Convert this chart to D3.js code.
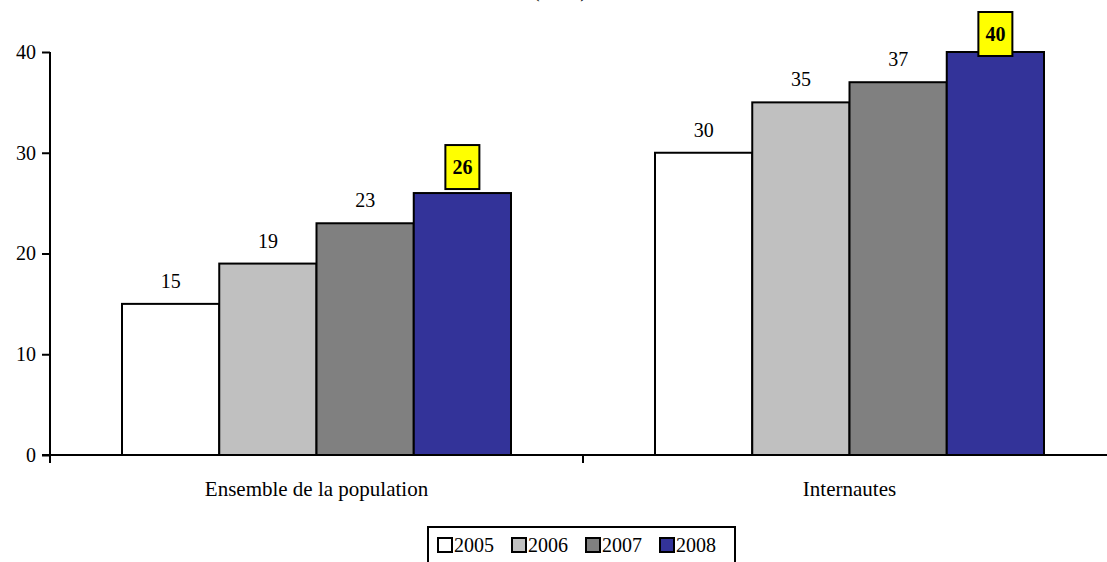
<!DOCTYPE html>
<html>
<head>
<meta charset="utf-8">
<script src="https://cdn.jsdelivr.net/npm/d3@7"></script>
<style>
body { margin: 0; background: #fff; }
svg text { font-family: "Liberation Serif", "Times New Roman", serif; }
</style>
</head>
<body>
<div id="chart"></div>
<script>
// chart data
var categories = ['Ensemble de la population', 'Internautes'];
var years = ['2005', '2006', '2007', '2008'];
var values2005 = [15, 30];
var values2006 = [19, 35];
var values2007 = [23, 37];
var values2008 = [26, 40];
var yTicks = [0, 10, 20, 30, 40];

var colors = ['#ffffff', '#c0c0c0', '#808080', '#333399'];
var series = [values2005, values2006, values2007, values2008];

var width = 1107, height = 562;

var svg = d3.select('#chart').append('svg')
	.attr('width', width)
	.attr('height', height);

var x0 = d3.scaleBand().domain(categories).range([50, 1116]);
var x1 = d3.scaleBand().domain(years).range([72, 461]);
var y = d3.scaleLinear().domain([0, 40]).range([455, 52]);

// title, cut off at the top like the original
svg.append('text')
	.attr('x', 560).attr('y', -3)
	.attr('text-anchor', 'middle')
	.style('font-size', '20px')
	.text('(en %)');

// bars
categories.forEach(function(cat, ci) {
	var g = svg.append('g').attr('transform', 'translate(' + x0(cat) + ',0)');
	years.forEach(function(yr, si) {
		var v = series[si][ci];
		g.append('rect')
			.attr('x', x1(yr))
			.attr('y', y(v))
			.attr('width', x1.bandwidth())
			.attr('height', y(0) - y(v))
			.attr('fill', colors[si])
			.attr('stroke', '#000')
			.attr('stroke-width', 2);

		var cx = x1(yr) + x1.bandwidth() / 2;
		if (si == years.length - 1) {
			var top = Math.max(12, y(v) - 48);
			g.append('rect')
				.attr('x', cx - 17).attr('y', top)
				.attr('width', 34).attr('height', 44)
				.attr('fill', '#ffff00')
				.attr('stroke', '#000')
				.attr('stroke-width', 2);
			g.append('text')
				.attr('x', cx).attr('y', top + 29)
				.attr('text-anchor', 'middle')
				.style('font-size', '20px')
				.style('font-weight', 'bold')
				.text(v);
		}
		else {
			g.append('text')
				.attr('x', cx).attr('y', y(v) - 16)
				.attr('text-anchor', 'middle')
				.style('font-size', '20px')
				.text(v);
		}
	});
});

// y axis
var yAxis = d3.axisLeft(y).tickValues(yTicks).tickSize(8).tickPadding(6);
var ya = svg.append('g').attr('transform', 'translate(50,0)').call(yAxis);
ya.select('.domain').remove();
ya.selectAll('.tick line').attr('stroke', '#000').attr('stroke-width', 2);
ya.selectAll('.tick text').style('font-size', '20px').style('font-family', '"Liberation Serif", serif').attr('fill', '#000');
svg.append('line')
	.attr('x1', 50).attr('x2', 50)
	.attr('y1', y(40)).attr('y2', 463)
	.attr('stroke', '#000').attr('stroke-width', 2);

// x axis
svg.append('line')
	.attr('x1', 42).attr('x2', 1116)
	.attr('y1', y(0)).attr('y2', y(0))
	.attr('stroke', '#000').attr('stroke-width', 2);
svg.append('line')
	.attr('x1', x0(categories[1])).attr('x2', x0(categories[1]))
	.attr('y1', y(0)).attr('y2', 463)
	.attr('stroke', '#000').attr('stroke-width', 2);
categories.forEach(function(cat) {
	svg.append('text')
		.attr('x', x0(cat) + x0.bandwidth() / 2)
		.attr('y', 496)
		.attr('text-anchor', 'middle')
		.style('font-size', '21px')
		.text(cat);
});

// legend
var legend = svg.append('g');
legend.append('rect')
	.attr('x', 428).attr('y', 527)
	.attr('width', 307).attr('height', 50)
	.attr('fill', '#fff')
	.attr('stroke', '#000')
	.attr('stroke-width', 2);
years.forEach(function(yr, i) {
	var lx = 438 + i * 74;
	legend.append('rect')
		.attr('x', lx).attr('y', 538)
		.attr('width', 14).attr('height', 14)
		.attr('fill', colors[i])
		.attr('stroke', '#000')
		.attr('stroke-width', 2);
	legend.append('text')
		.attr('x', lx + 16).attr('y', 552)
		.style('font-size', '20px')
		.text(yr);
});
</script>
</body>
</html>
